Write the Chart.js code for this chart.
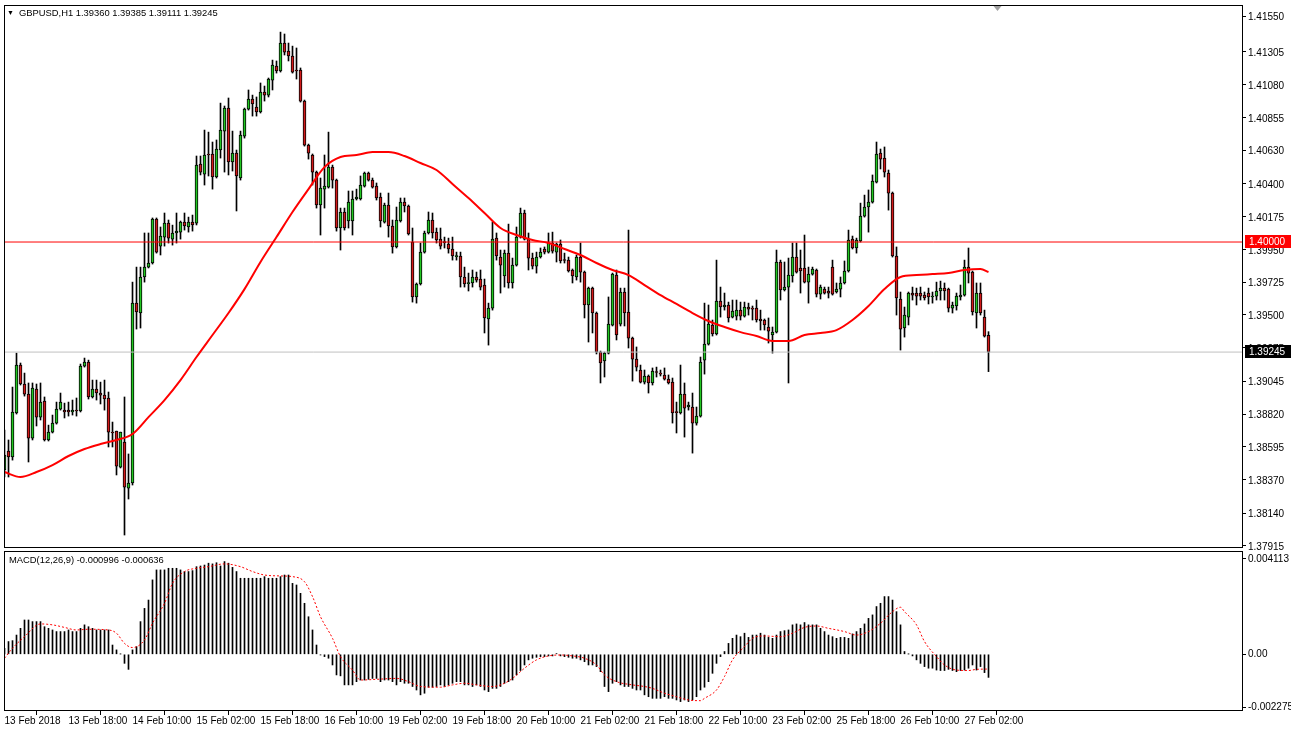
<!DOCTYPE html>
<html><head><meta charset="utf-8">
<script src="https://cdn.jsdelivr.net/npm/chart.js@4.4.1/dist/chart.umd.min.js"></script>
<style>
html,body{margin:0;padding:0;background:#fff;}
#wrap{position:relative;width:1291px;height:733px;overflow:hidden;font-family:"Liberation Sans",Arial,sans-serif;background:#fff;}
#c1{position:absolute;left:0;top:0;}
#c2{position:absolute;left:0;top:550px;}
.lbl{position:absolute;font-size:9.4px;color:#000;white-space:nowrap;line-height:12px;}
.tri{font-size:7px;vertical-align:1px;margin-right:5px;}
</style></head><body>
<div id="wrap">
<canvas id="c1" width="1291" height="552"></canvas>
<canvas id="c2" width="1291" height="183"></canvas>
<div class="lbl" id="title" style="left:7px;top:7px;"></div>
<div class="lbl" id="macdTitle" style="left:9px;top:554px;"></div>
</div>
<script>
// ---------------- DATA ----------------
const symbolName = "GBPUSD,H1";
const opens = [1.38436,1.38566,1.38525,1.38827,1.39156,1.39026,1.38957,1.38655,1.38991,1.38799,
1.38909,1.38642,1.38696,1.38758,1.38854,1.38847,1.38847,1.38834,1.38847,1.38841,
1.39149,1.39177,1.38937,1.38991,1.38964,1.38950,1.38930,1.38696,1.38703,1.38456,
1.38628,1.38312,1.38347,1.39581,1.39513,1.39760,1.39828,1.39856,1.40158,1.39972,
1.40034,1.40130,1.40020,1.40062,1.40068,1.40137,1.40103,1.40137,1.40130,1.40535,
1.40466,1.40604,1.40604,1.40446,1.40631,1.40761,1.40919,1.40549,1.40610,1.40439,
1.40727,1.40912,1.40981,1.40926,1.40892,1.41029,1.41008,1.41111,1.41207,1.41173,
1.41365,1.41310,1.41276,1.41180,1.41180,1.40967,1.40665,1.40597,1.40480,1.40254,
1.40363,1.40377,1.40514,1.40425,1.40096,1.40206,1.40144,1.40144,1.40295,1.40295,
1.40384,1.40473,1.40425,1.40384,1.40309,1.40137,1.40254,1.40110,1.39966,1.40144,
1.40274,1.40247,1.40000,1.39623,1.39712,1.39931,1.40062,1.40151,1.40068,1.40020,
1.40003,1.39986,1.39952,1.39900,1.39904,1.39760,1.39715,1.39719,1.39760,1.39746,
1.39705,1.39472,1.39547,1.40027,1.39897,1.39767,1.39924,1.39719,1.39842,1.40034,
1.40199,1.40020,1.39890,1.39835,1.39897,1.39952,1.39931,1.39993,1.39931,1.39986,
1.39880,1.39876,1.39808,1.39760,1.39897,1.39794,1.39568,1.39684,1.39513,1.39245,
1.39184,1.39238,1.39430,1.39773,1.39437,1.39657,1.39520,1.39341,1.39197,1.39122,
1.39039,1.39081,1.39033,1.39111,1.39101,1.39088,1.39060,1.39039,1.38837,1.38827,
1.38957,1.38868,1.38868,1.38758,1.38806,1.39190,1.39300,1.39430,1.39369,1.39595,
1.39554,1.39568,1.39485,1.39492,1.39533,1.39492,1.39554,1.39547,1.39547,1.39472,
1.39465,1.39417,1.39362,1.39382,1.39863,1.39671,1.39691,1.39767,1.39897,1.39822,
1.39822,1.39725,1.39780,1.39808,1.39643,1.39677,1.39664,1.39828,1.39657,1.39677,
1.39719,1.39801,1.40020,1.39959,1.40007,1.40178,1.40240,1.40274,1.40411,1.40610,
1.40576,1.40473,1.40336,1.39904,1.39609,1.39410,1.39485,1.39650,1.39650,1.39650,
1.39636,1.39650,1.39623,1.39629,1.39664,1.39684,1.39677,1.39547,1.39561,1.39623,
1.39636,1.39828,1.39794,1.39513,1.39650,1.39485,1.39360];
const highs = [1.38710,1.38642,1.39005,1.39238,1.39170,1.39101,1.39033,1.39033,1.39026,1.39033,
1.38937,1.38744,1.38813,1.38902,1.38964,1.38895,1.38902,1.38916,1.38930,1.39163,
1.39204,1.39190,1.39053,1.39053,1.39039,1.39053,1.38971,1.38765,1.38703,1.38696,
1.38937,1.38546,1.39725,1.39828,1.39828,1.40062,1.40062,1.40165,1.40165,1.40103,
1.40199,1.40151,1.40116,1.40199,1.40144,1.40199,1.40171,1.40185,1.40590,1.40590,
1.40768,1.40754,1.40686,1.40700,1.40953,1.40933,1.40988,1.40761,1.40631,1.40761,
1.40919,1.41043,1.41008,1.40995,1.41091,1.41070,1.41125,1.41248,1.41242,1.41440,
1.41427,1.41365,1.41344,1.41331,1.41194,1.40974,1.40672,1.40604,1.40487,1.40439,
1.40597,1.40754,1.40528,1.40432,1.40233,1.40233,1.40350,1.40350,1.40363,1.40453,
1.40480,1.40480,1.40439,1.40405,1.40336,1.40267,1.40336,1.40151,1.40240,1.40302,
1.40302,1.40254,1.40096,1.39719,1.39993,1.40075,1.40206,1.40199,1.40096,1.40096,
1.40034,1.40027,1.40034,1.39931,1.39931,1.39828,1.39787,1.39808,1.39794,1.39808,
1.39746,1.39581,1.40137,1.40062,1.39945,1.39945,1.40123,1.39890,1.40103,1.40233,
1.40219,1.40062,1.39924,1.39931,1.39959,1.39966,1.40062,1.40068,1.39993,1.40014,
1.39924,1.39897,1.39815,1.39911,1.39993,1.39801,1.39691,1.39691,1.39520,1.39252,
1.39245,1.39623,1.39787,1.39808,1.39684,1.39684,1.40082,1.39348,1.39280,1.39156,
1.39122,1.39088,1.39136,1.39142,1.39122,1.39136,1.39088,1.39067,1.38902,1.39156,
1.39033,1.38902,1.38964,1.38868,1.39211,1.39581,1.39568,1.39465,1.39876,1.39691,
1.39650,1.39588,1.39602,1.39602,1.39588,1.39588,1.39581,1.39561,1.39602,1.39533,
1.39472,1.39479,1.39417,1.39945,1.39876,1.39863,1.39890,1.39993,1.39993,1.39945,
1.40048,1.39828,1.39828,1.39815,1.39705,1.39691,1.39691,1.39876,1.39719,1.39760,
1.39870,1.40082,1.40041,1.40027,1.40267,1.40322,1.40357,1.40460,1.40686,1.40638,
1.40652,1.40494,1.40343,1.39966,1.39657,1.39554,1.39657,1.39691,1.39684,1.39691,
1.39657,1.39684,1.39657,1.39725,1.39732,1.39719,1.39684,1.39588,1.39650,1.39705,
1.39876,1.39959,1.39801,1.39719,1.39719,1.39533,1.39385];
const lows = [1.38388,1.38388,1.38504,1.38820,1.39019,1.38943,1.38491,1.38642,1.38738,1.38779,
1.38635,1.38635,1.38690,1.38751,1.38847,1.38793,1.38806,1.38813,1.38806,1.38834,
1.39142,1.38923,1.38930,1.38916,1.38889,1.38847,1.38594,1.38594,1.38402,1.38450,
1.37990,1.38237,1.38333,1.39403,1.39410,1.39725,1.39822,1.39849,1.39924,1.39911,
1.39972,1.39993,1.39979,1.39993,1.40020,1.40082,1.40068,1.40075,1.40117,1.40460,
1.40391,1.40453,1.40363,1.40439,1.40576,1.40480,1.40460,1.40487,1.40213,1.40425,
1.40713,1.40905,1.40864,1.40864,1.40885,1.40967,1.40995,1.41043,1.41159,1.41166,
1.41283,1.41242,1.41159,1.41118,1.40960,1.40658,1.40569,1.40391,1.40233,1.40048,
1.40233,1.40370,1.40370,1.40075,1.39945,1.40082,1.40096,1.40048,1.40288,1.40288,
1.40377,1.40418,1.40370,1.40288,1.40103,1.40130,1.40034,1.39924,1.39959,1.40137,
1.40206,1.40048,1.39588,1.39581,1.39705,1.39924,1.40055,1.40027,1.39993,1.39952,
1.39959,1.39924,1.39876,1.39876,1.39691,1.39691,1.39664,1.39691,1.39725,1.39671,
1.39376,1.39293,1.39533,1.39876,1.39650,1.39691,1.39684,1.39684,1.39835,1.40027,
1.40014,1.39808,1.39815,1.39787,1.39890,1.39918,1.39924,1.39924,1.39863,1.39856,
1.39856,1.39794,1.39719,1.39739,1.39725,1.39479,1.39314,1.39376,1.39232,1.39033,
1.39074,1.39232,1.39424,1.39328,1.39424,1.39424,1.39273,1.39046,1.39115,1.39033,
1.39026,1.38964,1.39019,1.39074,1.39081,1.39053,1.39026,1.38758,1.38690,1.38820,
1.38662,1.38847,1.38552,1.38744,1.38799,1.39094,1.39293,1.39355,1.39362,1.39485,
1.39533,1.39451,1.39479,1.39465,1.39465,1.39485,1.39499,1.39465,1.39451,1.39396,
1.39396,1.39307,1.39238,1.39376,1.39602,1.39664,1.39033,1.39725,1.39787,1.39650,
1.39719,1.39581,1.39773,1.39623,1.39609,1.39643,1.39616,1.39636,1.39650,1.39623,
1.39712,1.39794,1.39952,1.39924,1.40000,1.40171,1.40068,1.40267,1.40405,1.40501,
1.40446,1.40219,1.39897,1.39499,1.39259,1.39348,1.39431,1.39602,1.39568,1.39602,
1.39602,1.39575,1.39581,1.39602,1.39602,1.39602,1.39520,1.39513,1.39533,1.39602,
1.39629,1.39719,1.39499,1.39410,1.39499,1.39348,1.39111];
const closes = [1.38539,1.38525,1.38834,1.39156,1.39026,1.38957,1.38655,1.38998,1.38799,1.38902,
1.38642,1.38696,1.38758,1.38854,1.38902,1.38834,1.38834,1.38847,1.38841,1.39149,
1.39177,1.38937,1.38991,1.38964,1.38950,1.38923,1.38696,1.38690,1.38463,1.38696,
1.38319,1.38347,1.39581,1.39520,1.39760,1.39828,1.39856,1.40158,1.39931,1.40041,
1.40130,1.40027,1.40062,1.40075,1.40137,1.40110,1.40137,1.40117,1.40528,1.40480,
1.40597,1.40597,1.40446,1.40638,1.40768,1.40919,1.40549,1.40610,1.40453,1.40734,
1.40912,1.40981,1.40947,1.40892,1.41029,1.41008,1.41118,1.41214,1.41173,1.41365,
1.41303,1.41276,1.41166,1.41173,1.40967,1.40665,1.40610,1.40480,1.40254,1.40370,
1.40384,1.40514,1.40425,1.40096,1.40206,1.40096,1.40274,1.40295,1.40309,1.40391,
1.40473,1.40425,1.40377,1.40302,1.40144,1.40254,1.40110,1.39966,1.40151,1.40274,
1.40247,1.40055,1.39623,1.39712,1.39931,1.40062,1.40151,1.40062,1.40014,1.39972,
1.39996,1.39952,1.39904,1.39907,1.39760,1.39712,1.39722,1.39760,1.39739,1.39691,
1.39479,1.39547,1.40020,1.39904,1.39842,1.39924,1.39719,1.39842,1.40034,1.40199,
1.40020,1.39890,1.39835,1.39897,1.39931,1.39931,1.39993,1.39938,1.39986,1.39870,
1.39873,1.39801,1.39767,1.39897,1.39794,1.39568,1.39684,1.39513,1.39245,1.39170,
1.39238,1.39437,1.39780,1.39362,1.39657,1.39513,1.39341,1.39197,1.39142,1.39039,
1.39081,1.39033,1.39115,1.39105,1.39094,1.39060,1.39033,1.38827,1.38830,1.38957,
1.38861,1.38882,1.38758,1.38806,1.39177,1.39300,1.39437,1.39369,1.39595,1.39554,
1.39568,1.39479,1.39527,1.39533,1.39492,1.39554,1.39540,1.39540,1.39465,1.39458,
1.39431,1.39389,1.39382,1.39863,1.39671,1.39691,1.39773,1.39897,1.39794,1.39801,
1.39725,1.39780,1.39815,1.39643,1.39691,1.39650,1.39650,1.39643,1.39677,1.39719,
1.39801,1.40014,1.39959,1.40014,1.40178,1.40240,1.40274,1.40418,1.40604,1.40569,
1.40480,1.40336,1.39904,1.39616,1.39403,1.39499,1.39650,1.39636,1.39629,1.39629,
1.39616,1.39623,1.39629,1.39664,1.39684,1.39664,1.39547,1.39568,1.39629,1.39636,
1.39828,1.39787,1.39520,1.39650,1.39513,1.39355,1.39245];

// red moving average, read every 4 bars
const maIndex = [0,4,8,12,16,20,24,28,32,36,40,44,48,52,56,60,64,68,72,76,80,84,88,92,96,100,
104,108,112,116,120,124,128,132,136,140,144,148,152,156,160,164,168,172,176,180,184,188,192,196,
200,204,208,212,216,220,224,228,232,236,240,244,246];
const maValues = [1.38422,1.38388,1.38422,1.38470,1.38532,1.38580,1.38614,1.38642,1.38683,1.38799,
1.38916,1.39053,1.39211,1.39362,1.39513,1.39677,1.39863,1.40034,1.40206,1.40363,1.40514,1.40583,
1.40597,1.40617,1.40617,1.40590,1.40542,1.40494,1.40398,1.40302,1.40199,1.40096,1.40048,1.40014,
1.39993,1.39952,1.39911,1.39856,1.39808,1.39773,1.39705,1.39636,1.39575,1.39513,1.39458,1.39417,
1.39382,1.39355,1.39321,1.39321,1.39362,1.39376,1.39396,1.39465,1.39561,1.39677,1.39760,1.39773,
1.39780,1.39787,1.39808,1.39815,1.39794];

// MACD(12,26,9) main line (histogram) per bar
const macdValues = [0.00026,0.00055,0.00059,0.00083,0.00112,0.00148,0.00148,0.00141,0.00141,0.00141,
0.00119,0.00112,0.00105,0.00098,0.00098,0.00098,0.00105,0.00098,0.00098,0.00112,
0.00127,0.00119,0.00112,0.00105,0.00105,0.00105,0.00105,0.00040,0.00019,0.00001,
-0.00039,-0.00065,0.00019,0.00033,0.00141,0.00198,0.00234,0.00321,0.00364,0.00364,
0.00364,0.00371,0.00371,0.00371,0.00364,0.00357,0.00357,0.00361,0.00378,0.00381,
0.00385,0.00393,0.00390,0.00395,0.00381,0.00400,0.00393,0.00375,0.00357,0.00328,
0.00328,0.00328,0.00328,0.00328,0.00328,0.00335,0.00328,0.00328,0.00328,0.00335,
0.00342,0.00342,0.00306,0.00299,0.00263,0.00220,0.00162,0.00105,0.00040,-0.00003,
-0.00010,-0.00017,-0.00046,-0.00089,-0.00093,-0.00132,-0.00132,-0.00132,-0.00118,-0.00111,
-0.00111,-0.00108,-0.00104,-0.00104,-0.00118,-0.00111,-0.00111,-0.00118,-0.00132,-0.00118,
-0.00125,-0.00125,-0.00139,-0.00154,-0.00175,-0.00168,-0.00142,-0.00142,-0.00139,-0.00132,
-0.00139,-0.00132,-0.00125,-0.00118,-0.00118,-0.00132,-0.00132,-0.00139,-0.00132,-0.00139,
-0.00154,-0.00161,-0.00147,-0.00147,-0.00139,-0.00125,-0.00118,-0.00111,-0.00089,-0.00070,
-0.00046,-0.00024,-0.00017,-0.00013,-0.00010,-0.00010,-0.00007,-0.00007,0.00003,-0.00007,
-0.00010,-0.00013,-0.00017,-0.00017,-0.00024,-0.00032,-0.00046,-0.00046,-0.00053,-0.00075,
-0.00139,-0.00161,-0.00125,-0.00118,-0.00132,-0.00139,-0.00139,-0.00147,-0.00154,-0.00154,
-0.00175,-0.00183,-0.00190,-0.00190,-0.00190,-0.00183,-0.00190,-0.00190,-0.00197,-0.00204,
-0.00197,-0.00204,-0.00197,-0.00183,-0.00154,-0.00142,-0.00118,-0.00082,-0.00039,-0.00010,
0.00012,0.00047,0.00069,0.00083,0.00076,0.00091,0.00073,0.00083,0.00083,0.00091,
0.00083,0.00073,0.00069,0.00083,0.00098,0.00102,0.00105,0.00127,0.00131,0.00127,
0.00137,0.00127,0.00127,0.00127,0.00112,0.00098,0.00083,0.00076,0.00069,0.00073,
0.00073,0.00069,0.00088,0.00098,0.00112,0.00131,0.00155,0.00170,0.00206,0.00220,
0.00249,0.00249,0.00234,0.00184,0.00127,0.00012,0.00001,-0.00007,-0.00024,-0.00039,
-0.00053,-0.00060,-0.00060,-0.00068,-0.00070,-0.00070,-0.00065,-0.00070,-0.00075,-0.00070,
-0.00068,-0.00060,-0.00046,-0.00068,-0.00053,-0.00079,-0.000996];

// MACD signal line (red dotted), read at these bars
const signalIndex = [0,2,5,9,12,15,18,21,26,28,30,32,35,37,40,42,45,48,51,55,59,62,65,69,72,75,77,79,82,84,
87,89,93,98,101,104,109,112,115,118,122,125,127,130,133,136,139,142,145,148,150,153,157,160,162,165,168,171,174,175,
178,180,182,185,187,190,194,197,200,203,206,210,213,216,219,222,224,225,228,230,233,235,238,241,243,246];
const signalValues = [-0.00017,0.00026,0.00076,0.00131,0.00127,0.00116,0.00105,0.00108,0.00105,0.00091,
0.00047,0.00029,0.00062,0.00134,0.00220,0.00306,0.00357,0.00371,0.00378,0.00390,
0.00378,0.00357,0.00342,0.00338,0.00335,0.00313,0.00249,0.00162,0.00069,-0.00010,
-0.00068,-0.00111,-0.00108,-0.00104,-0.00118,-0.00139,-0.00142,-0.00132,-0.00125,-0.00132,
-0.00139,-0.00125,-0.00104,-0.00060,-0.00024,-0.00007,-0.00003,-0.00007,-0.00017,-0.00046,
-0.00089,-0.00118,-0.00132,-0.00139,-0.00147,-0.00168,-0.00183,-0.00197,-0.00200,-0.00190,
-0.00154,-0.00096,-0.00024,0.00033,0.00069,0.00079,0.00076,0.00091,0.00116,0.00122,
0.00112,0.00098,0.00083,0.00098,0.00134,0.00184,0.00203,0.00184,0.00127,0.00055,
-0.00010,-0.00046,-0.00068,-0.00070,-0.00065,-0.000636];
const macdLast = ["-0.000996","-0.000636"];

// axes
const priceTicks = [1.41550,1.41305,1.41080,1.40855,1.40630,1.40400,1.40175,1.39950,1.39725,1.39500,
1.39275,1.39045,1.38820,1.38595,1.38370,1.38140,1.37915];
const macdTicks = [0.004113, 0, -0.002275];
const macdTickLabels = ["0.004113","0.00","-0.002275"];
const timeTickIndex = [0,16,32,48,64,80,96,112,128,144,160,176,192,208,224,240];
const timeTickLabels = ["13 Feb 2018","13 Feb 18:00","14 Feb 10:00","15 Feb 02:00","15 Feb 18:00",
"16 Feb 10:00","19 Feb 02:00","19 Feb 18:00","20 Feb 10:00","21 Feb 02:00","21 Feb 18:00",
"22 Feb 10:00","23 Feb 02:00","25 Feb 18:00","26 Feb 10:00","27 Feb 02:00"];
const levelLine = 1.40000;      // red horizontal line
const bidPrice = 1.39245;       // grey bid line

// ---------------- STYLE / VIEW ----------------
const X_MIN = -0.125, X_MAX = 309.625;
const PRICE_MIN = 1.37901, PRICE_MAX = 1.41626;
const MACD_MIN = -0.002446, MACD_MAX = 0.004456;
const BULL = '#22c722', BEAR = '#d21a1a';
const FONT = '"Liberation Sans", Arial, sans-serif';
Chart.defaults.font.family = FONT;
Chart.defaults.font.size = 10;
Chart.defaults.color = '#000';

const f5 = v => v.toFixed(5);
document.getElementById('title').innerHTML = '<span class="tri">&#9660;</span>' + symbolName + ' ' +
  [opens, highs, lows, closes].map(a => f5(a[a.length - 1])).join(' ');
document.getElementById('macdTitle').textContent = 'MACD(12,26,9) ' + macdLast.join(' ');

const wickData = opens.map((o, i) => ({x: i, y: [lows[i], highs[i]]}));
const bodyData = opens.map((o, i) => ({x: i, y: [o, closes[i]]}));
const bodyColors = opens.map((o, i) => closes[i] >= o ? BULL : BEAR);
const maData = maIndex.map((x, k) => ({x, y: maValues[k]}));
const macdData = macdValues.map((v, i) => ({x: i, y: v}));
const sigData = signalIndex.map((x, k) => ({x, y: signalValues[k]}));

const noPad = s => { s.paddingTop = 0; s.paddingBottom = 0; s.paddingLeft = 0; s.paddingRight = 0; };

const framePlugin = {
  id: 'frame',
  afterDatasetsDraw(chart) {
    const a = chart.chartArea, c = chart.ctx;
    c.save();
    c.strokeStyle = '#000'; c.lineWidth = 1;
    c.strokeRect(Math.round(a.left) + 0.5, Math.round(a.top) + 0.5,
      Math.round(a.right - a.left) - 1, Math.round(a.bottom - a.top) - 1);
    c.restore();
  }
};
const priceBoxPlugin = {
  id: 'priceBoxes',
  afterDraw(chart) {
    const c = chart.ctx, ys = chart.scales.y, xs = chart.scales.x, a = chart.chartArea;
    c.save();
    [[levelLine, '#ff0000'], [bidPrice, '#000000']].forEach(([v, bg]) => {
      const y = Math.round(ys.getPixelForValue(v));
      c.fillStyle = bg;
      c.fillRect(a.right + 2, y - 7, 46, 13);
      c.fillStyle = '#fff';
      c.font = '10px ' + FONT;
      c.textBaseline = 'middle';
      c.textAlign = 'left';
      c.fillText(f5(v), a.right + 6, y);
    });
    // chart-shift marker
    const sx = Math.round(xs.getPixelForValue(248)) + 0.5;
    c.fillStyle = '#a0a0a0';
    c.beginPath(); c.moveTo(sx - 4, a.top + 1); c.lineTo(sx + 4, a.top + 1); c.lineTo(sx, a.top + 6); c.closePath(); c.fill();
    c.restore();
  }
};

new Chart(document.getElementById('c1'), {
  type: 'bar',
  data: {
    datasets: [
      {type: 'bar', data: wickData, backgroundColor: '#000', barThickness: 1, grouped: false, order: 4},
      {type: 'bar', data: bodyData, backgroundColor: bodyColors, borderColor: '#000', borderWidth: 1,
       borderSkipped: false, barThickness: 3, minBarLength: 1, grouped: false, order: 3},
      {type: 'line', data: [{x: X_MIN, y: levelLine}, {x: X_MAX, y: levelLine}], borderColor: '#ff0000',
       borderWidth: 1, pointRadius: 0, order: 2},
      {type: 'line', data: [{x: X_MIN, y: bidPrice}, {x: X_MAX, y: bidPrice}], borderColor: '#c0c0c0',
       borderWidth: 1, pointRadius: 0, order: 2},
      {type: 'line', data: maData, borderColor: '#ff0000', borderWidth: 2, pointRadius: 0,
       cubicInterpolationMode: 'monotone', order: 1}
    ]
  },
  options: {
    responsive: false, animation: false, devicePixelRatio: 1, events: [],
    layout: {autoPadding: false, padding: {left: 4, top: 5, right: 0, bottom: 4}},
    plugins: {legend: {display: false}, tooltip: {enabled: false}},
    scales: {
      x: {type: 'linear', min: X_MIN, max: X_MAX, offset: false, display: false},
      y: {type: 'linear', position: 'right', min: PRICE_MIN, max: PRICE_MAX,
        afterBuildTicks: s => { s.ticks = priceTicks.map(v => ({value: v})); },
        afterFit: s => { s.width = 48; noPad(s); },
        border: {display: false},
        grid: {drawOnChartArea: false, drawTicks: true, tickLength: 3, color: '#000'},
        ticks: {autoSkip: false, padding: 2, labelOffset: 1.5, callback: v => f5(v), font: {size: 10}, color: '#000'}
      }
    }
  },
  plugins: [framePlugin, priceBoxPlugin]
});

new Chart(document.getElementById('c2'), {
  type: 'bar',
  data: {
    datasets: [
      {type: 'bar', data: macdData, backgroundColor: '#000', barThickness: 1, grouped: false, order: 2},
      {type: 'line', data: sigData, borderColor: '#ff0000', borderWidth: 1, borderDash: [2, 2],
       pointRadius: 0, cubicInterpolationMode: 'monotone', order: 1}
    ]
  },
  options: {
    responsive: false, animation: false, devicePixelRatio: 1, events: [],
    layout: {autoPadding: false, padding: {left: 4, top: 1, right: 0, bottom: 0}},
    plugins: {legend: {display: false}, tooltip: {enabled: false}},
    scales: {
      x: {type: 'linear', min: X_MIN, max: X_MAX, offset: false, position: 'bottom',
        afterBuildTicks: s => { s.ticks = timeTickIndex.map(v => ({value: v})); },
        afterFit: s => { s.height = 22; noPad(s); },
        border: {display: false},
        grid: {drawOnChartArea: false, drawTicks: true, tickLength: 4, color: '#000'},
        ticks: {autoSkip: false, maxRotation: 0, minRotation: 0, align: 'start', padding: 0,
          callback: (v, i) => timeTickLabels[i], font: {size: 10}, color: '#000'}
      },
      y: {type: 'linear', position: 'right', min: MACD_MIN, max: MACD_MAX,
        afterBuildTicks: s => { s.ticks = macdTicks.map(v => ({value: v})); },
        afterFit: s => { s.width = 48; noPad(s); },
        border: {display: false},
        grid: {drawOnChartArea: false, drawTicks: true, tickLength: 3, color: '#000'},
        ticks: {autoSkip: false, padding: 2, callback: (v, i) => macdTickLabels[i], font: {size: 10}, color: '#000'}
      }
    }
  },
  plugins: [framePlugin]
});
</script>
</body></html>
